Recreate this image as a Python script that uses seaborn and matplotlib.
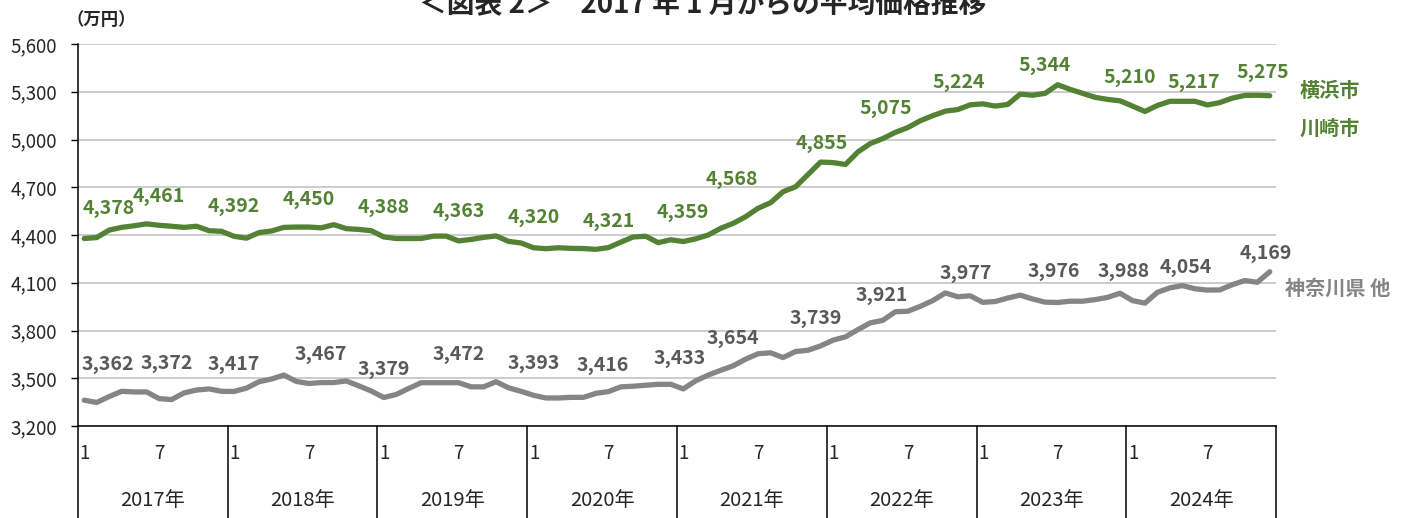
import matplotlib
matplotlib.use('Agg')
import matplotlib.pyplot as plt
import matplotlib.transforms as mtransforms
import numpy as np
import pandas as pd
import seaborn as sns

# monthly average price (万円), Jan 2017 .. Dec 2024
years = ['2017年', '2018年', '2019年', '2020年', '2021年', '2022年', '2023年', '2024年']
month_ticks = ['1', '7']

yokohama_kawasaki = [
    4378, 4384, 4431, 4448, 4458, 4470, 4461, 4455, 4448, 4455, 4427, 4423,
    4392, 4380, 4415, 4425, 4448, 4450, 4450, 4445, 4465, 4440, 4435, 4427,
    4388, 4378, 4378, 4378, 4393, 4393, 4363, 4372, 4385, 4394, 4360, 4350,
    4320, 4314, 4320, 4316, 4315, 4310, 4321, 4355, 4388, 4392, 4352, 4370,
    4359, 4376, 4400, 4442, 4473, 4515, 4568, 4603, 4672, 4703, 4780, 4858,
    4855, 4843, 4922, 4975, 5006, 5045, 5075, 5118, 5150, 5178, 5188, 5218,
    5224, 5210, 5220, 5285, 5278, 5290, 5344, 5315, 5290, 5265, 5252, 5243,
    5210, 5176, 5214, 5240, 5240, 5240, 5217, 5232, 5260, 5277, 5278, 5275,
]
kanagawa_other = [
    3362, 3348, 3385, 3418, 3414, 3414, 3372, 3366, 3408, 3426, 3433, 3418,
    3417, 3438, 3478, 3495, 3520, 3480, 3467, 3473, 3473, 3483, 3452, 3420,
    3379, 3398, 3436, 3472, 3472, 3472, 3472, 3446, 3446, 3478, 3440, 3418,
    3393, 3376, 3376, 3380, 3380, 3405, 3416, 3446, 3450, 3456, 3462, 3462,
    3433, 3484, 3520, 3550, 3578, 3620, 3654, 3660, 3630, 3668, 3676, 3703,
    3739, 3760, 3806, 3848, 3864, 3918, 3921, 3952, 3988, 4036, 4012, 4018,
    3977, 3982, 4004, 4022, 3998, 3978, 3976, 3984, 3984, 3994, 4008, 4034,
    3988, 3972, 4040, 4068, 4082, 4062, 4054, 4055, 4088, 4114, 4103, 4169,
]
label_idx = [0, 6, 12, 18, 24, 30, 36, 42, 48, 54, 60, 66, 72, 78, 84, 90, 95]

GREEN = '#548235'
GRAY = '#858585'
GRAY_TXT = '#595959'

sns.set_style('white')
plt.rcParams['font.family'] = ['Noto Sans CJK JP', 'DejaVu Sans']

n = len(yokohama_kawasaki)
df = pd.DataFrame({
    'idx': list(range(n)) * 2,
    'price': yokohama_kawasaki + kanagawa_other,
    'area': ['横浜市・川崎市'] * n + ['神奈川県 他'] * n,
})

W, H = 1418, 518
fig = plt.figure(figsize=(W / 100, H / 100), dpi=100)
ax = fig.add_axes([78 / W, 1 - 426 / H, (1276 - 78) / W, (426 - 44) / H])

sns.lineplot(data=df, x='idx', y='price', hue='area', palette=[GREEN, GRAY],
             linewidth=3.8, legend=False, sort=False, ax=ax, zorder=3)

ax.set_xlim(-0.5, n - 0.5)
ax.set_ylim(3200, 5600)
ax.set_yticks(np.arange(3200, 5601, 300))
ax.set_yticklabels([f'{v:,}' for v in range(3200, 5601, 300)], fontsize=13.5)
ax.yaxis.grid(True, color='#BFBFBF', linewidth=1.1)
ax.set_xticks([])
ax.set_xlabel('')
ax.set_ylabel('')
ax.tick_params(axis='y', length=5, width=1, color='black', left=True, pad=10)
for s in ['top', 'right']:
    ax.spines[s].set_visible(False)
ax.spines['left'].set_color('black')
ax.spines['bottom'].set_color('black')
ax.spines['left'].set_linewidth(1.1)
ax.spines['bottom'].set_linewidth(1.1)

# data labels
green_off = [(24, 30), (0, 29), (0, 30), (0, 28), (0, 29), (0, 29), (0, 30), (0, 26), (0, 29),
             (-26, 29), (-11, 19), (-22, 19), (-24, 21), (-13, 19), (-3, 29), (-14, 22), (-7, 23)]
gray_off = [(24, 36), (8, 35), (0, 27), (12, 29), (0, 28), (0, 28), (0, 32), (-6, 26), (-4, 30),
            (-25, 15), (-17, 22), (-26, 16), (-17, 29), (-4, 31), (-9, 29), (-22, 23), (-4, 18)]
for k, i in enumerate(label_idx):
    ax.annotate(f'{yokohama_kawasaki[i]:,}', (i, yokohama_kawasaki[i]), xytext=green_off[k],
                textcoords='offset pixels', ha='center', va='center', fontsize=14,
                fontweight='bold', color=GREEN, annotation_clip=False)
    ax.annotate(f'{kanagawa_other[i]:,}', (i, kanagawa_other[i]), xytext=gray_off[k],
                textcoords='offset pixels', ha='center', va='center', fontsize=14,
                fontweight='bold', color=GRAY_TXT, annotation_clip=False)

# category axis (month / year table)
trans = mtransforms.blended_transform_factory(ax.transData, ax.transAxes)
for k in range(len(years) + 1):
    xb = -0.5 + 12 * k
    ax.plot([xb, xb], [0, -0.26], transform=trans, color='black', lw=1.1, clip_on=False)
for k, yr in enumerate(years):
    ax.text(-0.5 + 12 * k + 0.15, -0.073, month_ticks[0], transform=trans, ha='left',
            va='center', fontsize=13.5)
    ax.text(12 * k + 6, -0.073, month_ticks[1], transform=trans, ha='center',
            va='center', fontsize=13.5)
    ax.text(12 * k + 5.5, -0.194, yr, transform=trans, ha='center', va='center',
            fontsize=14.5)

# series names on the right
fig.text(1300 / W, 1 - 90 / H, '横浜市', color=GREEN, fontsize=14.5, fontweight='bold',
         ha='left', va='center')
fig.text(1300 / W, 1 - 128 / H, '川崎市', color=GREEN, fontsize=14.5, fontweight='bold',
         ha='left', va='center')
fig.text(1285 / W, 1 - 288 / H, '神奈川県 他', color=GRAY, fontsize=14.5, fontweight='bold',
         ha='left', va='center')

fig.text(66 / W, 1 - 20 / H, '（万円）', fontsize=12.5, fontweight='bold', ha='left',
         va='center', color='#262626')
fig.text(703 / W, 1 - 12 / H, '＜図表 2＞　2017 年 1 月からの平均価格推移', fontsize=20,
         fontweight='bold', ha='center', va='baseline')

fig.savefig('out.png', dpi=100)
